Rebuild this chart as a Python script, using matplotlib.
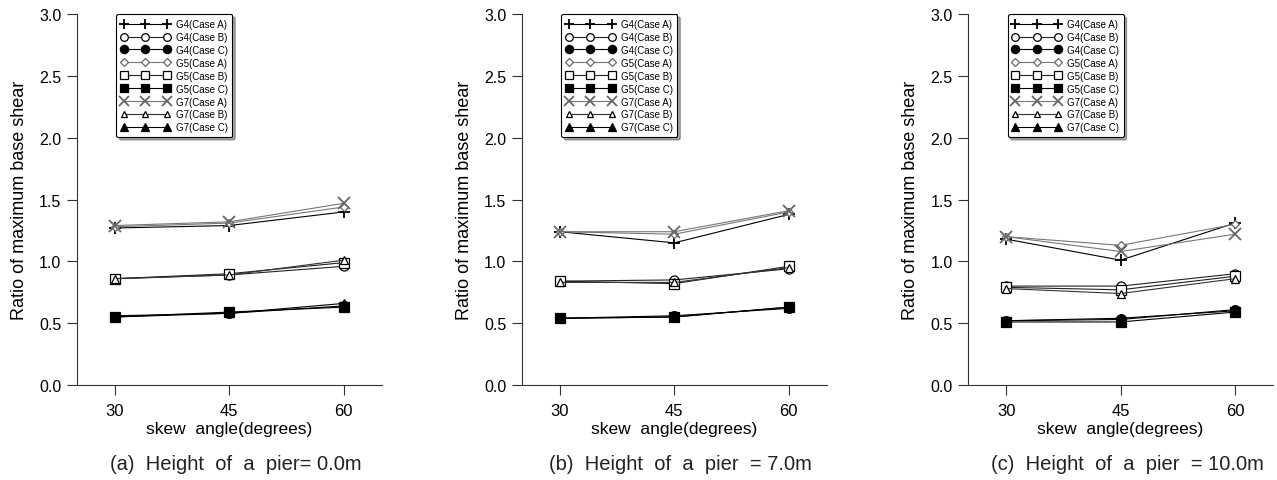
import matplotlib.pyplot as plt

plt.rcParams['font.family'] = ['Liberation Sans', 'DejaVu Sans']

angles = [30, 45, 60]
series = ["G4(Case A)", "G4(Case B)", "G4(Case C)",
          "G5(Case A)", "G5(Case B)", "G5(Case C)",
          "G7(Case A)", "G7(Case B)", "G7(Case C)"]

# pier height 0.0 m
h00 = [[1.27, 1.29, 1.40], [0.86, 0.89, 0.96], [0.55, 0.58, 0.64],
       [1.28, 1.31, 1.44], [0.86, 0.90, 0.99], [0.55, 0.59, 0.63],
       [1.29, 1.32, 1.47], [0.86, 0.89, 1.01], [0.56, 0.58, 0.66]]
# pier height 7.0 m
h70 = [[1.24, 1.15, 1.38], [0.84, 0.85, 0.94], [0.54, 0.56, 0.62],
       [1.24, 1.22, 1.40], [0.84, 0.82, 0.96], [0.54, 0.55, 0.63],
       [1.24, 1.24, 1.41], [0.83, 0.83, 0.95], [0.54, 0.55, 0.63]]
# pier height 10.0 m
h100 = [[1.18, 1.01, 1.31], [0.80, 0.80, 0.90], [0.52, 0.53, 0.61],
        [1.20, 1.13, 1.30], [0.79, 0.77, 0.88], [0.51, 0.51, 0.59],
        [1.20, 1.08, 1.22], [0.78, 0.74, 0.86], [0.52, 0.54, 0.60]]

captions = ["(a)  Height  of  a  pier= 0.0m",
            "(b)  Height  of  a  pier  = 7.0m",
            "(c)  Height  of  a  pier  = 10.0m"]

markers = ['+', 'o', 'o', 'D', 's', 's', 'x', '^', '^']
filled = [True, False, True, False, False, True, True, False, True]
line_colors = ['black', '#222222', 'black', '#777777', '#222222', 'black',
               '#777777', '#333333', 'black']
msizes = [8, 6.5, 7, 4.5, 6.5, 7, 8, 5.5, 6]

fig = plt.figure(figsize=(12.77, 4.81), dpi=100)
lefts = [0.060, 0.4085, 0.758]

for k, data in enumerate([h00, h70, h100]):
    ax = fig.add_axes([lefts[k], 0.1975, 0.239, 0.771])
    for i, vals in enumerate(data):
        face = 'black' if (filled[i] and markers[i] not in ['+', 'x']) else 'white'
        edge = '#666666' if markers[i] in ['D', 'x'] else 'black'
        ax.plot(angles, vals, color=line_colors[i], lw=0.8,
                marker=markers[i], ms=msizes[i], mfc=face, mec=edge,
                mew=0.9 if markers[i] not in ['+', 'x'] else 1.3,
                label=series[i])
    ax.set_xlim(25, 65)
    ax.set_ylim(0, 3.0)
    ax.set_xticks(angles)
    ax.set_yticks([0.0, 0.5, 1.0, 1.5, 2.0, 2.5, 3.0])
    ax.set_yticklabels(['0.0', '0.5', '1.0', '1.5', '2.0', '2.5', '3.0'])
    ax.spines['top'].set_visible(False)
    ax.spines['right'].set_visible(False)
    ax.spines['left'].set_color('#333333')
    ax.spines['bottom'].set_color('#333333')
    ax.tick_params(axis='y', direction='out', length=7, width=0.8,
                   labelsize=11.5, color='#333333', pad=4)
    ax.tick_params(axis='x', direction='out', length=7, width=0.8,
                   labelsize=12, color='#333333', pad=6)
    ax.set_xlabel("skew  angle(degrees)", fontsize=12.5, labelpad=2)
    ax.set_ylabel("Ratio of maximum base shear", fontsize=13, labelpad=8)
    leg = ax.legend(loc='upper left', bbox_to_anchor=(0.13, 1.0),
                    borderaxespad=0, numpoints=3, fontsize=7,
                    fancybox=True, shadow=True, handlelength=5,
                    handletextpad=0.6, labelspacing=0.3, borderpad=0.5,
                    edgecolor='black', framealpha=1, markerscale=0.85)
    leg.get_frame().set_linewidth(0.8)
    fig.text(lefts[k] + 0.239 / 2 + 0.005, 0.035, captions[k],
             ha='center', va='center', fontsize=14.5, color='#222222')

fig.savefig('out.png', dpi=100)
